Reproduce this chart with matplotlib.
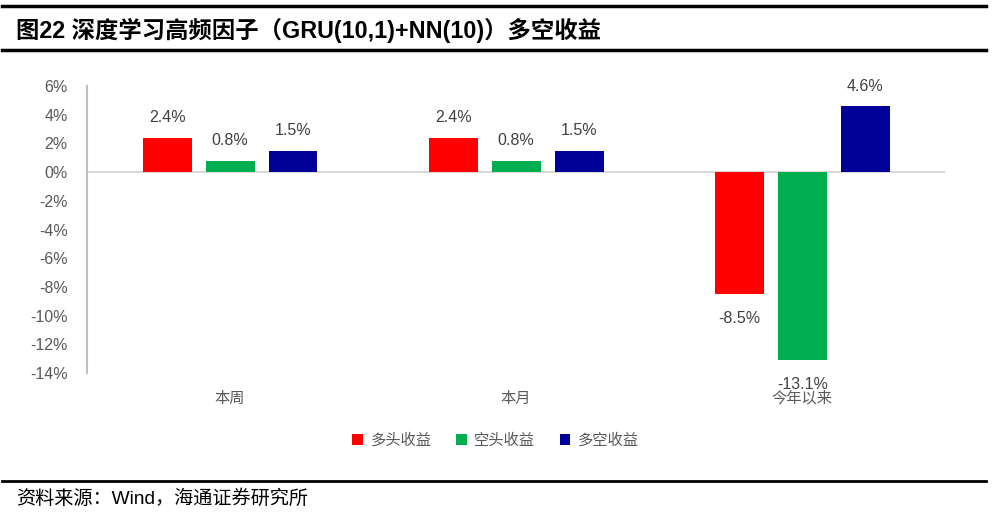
import matplotlib
matplotlib.use("Agg")
import matplotlib.pyplot as plt
import numpy as np
from matplotlib.lines import Line2D

plt.rcParams['font.family'] = ['Liberation Sans', 'Noto Sans CJK SC']

categories = ['本周', '本月', '今年以来']
series_names = ['多头收益', '空头收益', '多空收益']
long_ret = [2.4, 2.4, -8.5]
short_ret = [0.8, 0.8, -13.1]
ls_ret = [1.5, 1.5, 4.6]
colors = ['#FF0000', '#00AE4F', '#000099']
yticks = [6, 4, 2, 0, -2, -4, -6, -8, -10, -12, -14]

fig = plt.figure(figsize=(9.98, 5.19), dpi=100)
ax = fig.add_axes([0.0872, 0.2813, 0.860, 0.553])

x = np.arange(len(categories))
width = 0.171
step = 0.22
for i, (vals, name, c) in enumerate(zip([long_ret, short_ret, ls_ret], series_names, colors)):
    pos = x + (i - 1) * step
    ax.bar(pos, vals, width, color=c, label=name, zorder=2)
    for p, v in zip(pos, vals):
        if v >= 0:
            ax.annotate(f'{v:.1f}%', (p, v), xytext=(0, 9), textcoords='offset points',
                        ha='center', va='bottom', fontsize=11.5, color='#404040')
        else:
            ax.annotate(f'{v:.1f}%', (p, v), xytext=(0, -12), textcoords='offset points',
                        ha='center', va='top', fontsize=11.5, color='#404040')

ax.set_xlim(-0.5, 2.5)
ax.set_ylim(-14, 6)
ax.set_yticks(yticks)
ax.set_yticklabels([f'{t}%' for t in yticks], fontsize=11.5, color='#595959')
ax.tick_params(axis='y', length=0, pad=14)
ax.set_xticks(x)
ax.set_xticklabels(categories, fontsize=11, color='#595959', family=['Noto Sans CJK SC'])
ax.tick_params(axis='x', length=0, pad=12)
for s in ['top', 'right', 'bottom']:
    ax.spines[s].set_visible(False)
ax.spines['left'].set_color('#BFBFBF')
ax.spines['left'].set_linewidth(1.5)
ax.axhline(0, color='#D9D9D9', lw=1.5, zorder=1)

leg = ax.legend(loc='center', bbox_to_anchor=(0.476, -0.235), ncol=3, frameon=False,
                handlelength=0.7, handleheight=0.7, handletextpad=0.5, columnspacing=1.6,
                prop={'family': ['Noto Sans CJK SC'], 'size': 11})
for t in leg.get_texts():
    t.set_color('#595959')

# title and rules
fig.add_artist(Line2D([0.002, 0.988], [0.988, 0.988], color='black', lw=2.5))
fig.add_artist(Line2D([0.002, 0.988], [0.903, 0.903], color='black', lw=2.5))
fig.add_artist(Line2D([0.002, 0.988], [0.073, 0.073], color='black', lw=2))
fig.text(0.016, 0.942, '图22 深度学习高频因子（GRU(10,1)+NN(10)）多空收益', fontsize=16.8,
         fontweight='bold', va='center', ha='left')
fig.text(0.016, 0.040, '资料来源：Wind，海通证券研究所', fontsize=13.8, va='center', ha='left')

fig.savefig('out.png', dpi=100)
